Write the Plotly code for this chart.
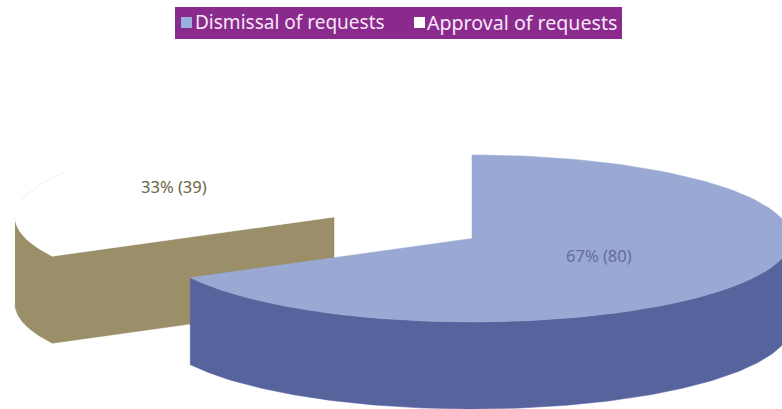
import numpy as np
import plotly.graph_objects as go

# Request outcomes
categories = ["Dismissal of requests", "Approval of requests"]
counts = [80, 39]
percent_labels = ["67% (80)", "33% (39)"]

# Pie projection, in pixels
WIDTH, HEIGHT = 782, 409
RX, RY, DEPTH = 319, 83.5, 87
apexes = [(472, 238.5), (334, 217)]
top_colors = ["#9aa8d4", "#ffffff"]
side_colors = ["#56639c", "#9a8f68"]
label_colors = ["#636c9c", "#6a6548"]
label_xy = [(599, 255), (174, 186)]


def rim(apex, a, b):
    """Points on the elliptical rim between clockwise angles a and b (radians from 12 o'clock)."""
    t = np.linspace(a, b, 160)
    return apex[0] + RX * np.sin(t), apex[1] - RY * np.cos(t)


def area(xs, ys, color):
    return go.Scatter(x=list(xs), y=list(ys), mode="lines", fill="toself", fillcolor=color,
                      line=dict(color=color, width=0.5), hoverinfo="skip", showlegend=False)


total = sum(counts)
split = 2 * np.pi * counts[0] / total

fig = go.Figure()

# Approval slice: rim wall plus the cut face running back to the apex
ax, ay = apexes[1]
wx, wy = rim(apexes[1], 1.5 * np.pi, split)
fig.add_trace(area(np.r_[wx, ax, ax, wx[::-1]],
                   np.r_[wy, ay, ay + DEPTH, wy[::-1] + DEPTH], side_colors[1]))
sx, sy = rim(apexes[1], split, 2 * np.pi)
fig.add_trace(area(np.r_[ax, sx, ax], np.r_[ay, sy, ay], top_colors[1]))

# Barely visible rim on the upper left of the white face
hx, hy = rim(apexes[1], np.radians(282), np.radians(302))
fig.add_trace(go.Scatter(x=hx, y=hy, mode="lines", line=dict(color="#f6f6f6", width=1.5),
                         hoverinfo="skip", showlegend=False))

# Dismissal slice: front wall, then the top face
wx, wy = rim(apexes[0], 0.5 * np.pi, split)
fig.add_trace(area(np.r_[wx, wx[::-1]], np.r_[wy, wy[::-1] + DEPTH], side_colors[0]))
sx, sy = rim(apexes[0], 0, split)
fig.add_trace(area(np.r_[apexes[0][0], sx, apexes[0][0]],
                   np.r_[apexes[0][1], sy, apexes[0][1]], top_colors[0]))

annotations = [
    dict(x=x, y=y, text=t, showarrow=False, font=dict(family="Noto Sans", size=16.5, color=c))
    for (x, y), t, c in zip(label_xy, percent_labels, label_colors)
]

# Legend banner
swatches = [("#9ab0dc", 181, 193, 19), ("#ffffff", 414, 425, 19.6)]
shapes = [dict(type="rect", x0=175, x1=622, y0=7, y1=39, fillcolor="#8a2a8c", line_width=0, layer="below")]
for (color, x0, tx, size), name in zip(swatches, categories):
    shapes.append(dict(type="rect", x0=x0, x1=x0 + 11, y0=17, y1=28, fillcolor=color, line_width=0))
    annotations.append(dict(x=tx, y=22, text=name, showarrow=False, xanchor="left",
                            font=dict(family="Noto Sans", size=size, color="#f6e6f6")))

fig.update_layout(
    width=WIDTH, height=HEIGHT, margin=dict(l=0, r=0, t=0, b=0),
    paper_bgcolor="white", plot_bgcolor="white", showlegend=False,
    xaxis=dict(range=[0, WIDTH], visible=False, fixedrange=True),
    yaxis=dict(range=[HEIGHT, 0], visible=False, fixedrange=True),
    shapes=shapes, annotations=annotations,
)
fig.write_html("out.html", config=dict(displayModeBar=False))
